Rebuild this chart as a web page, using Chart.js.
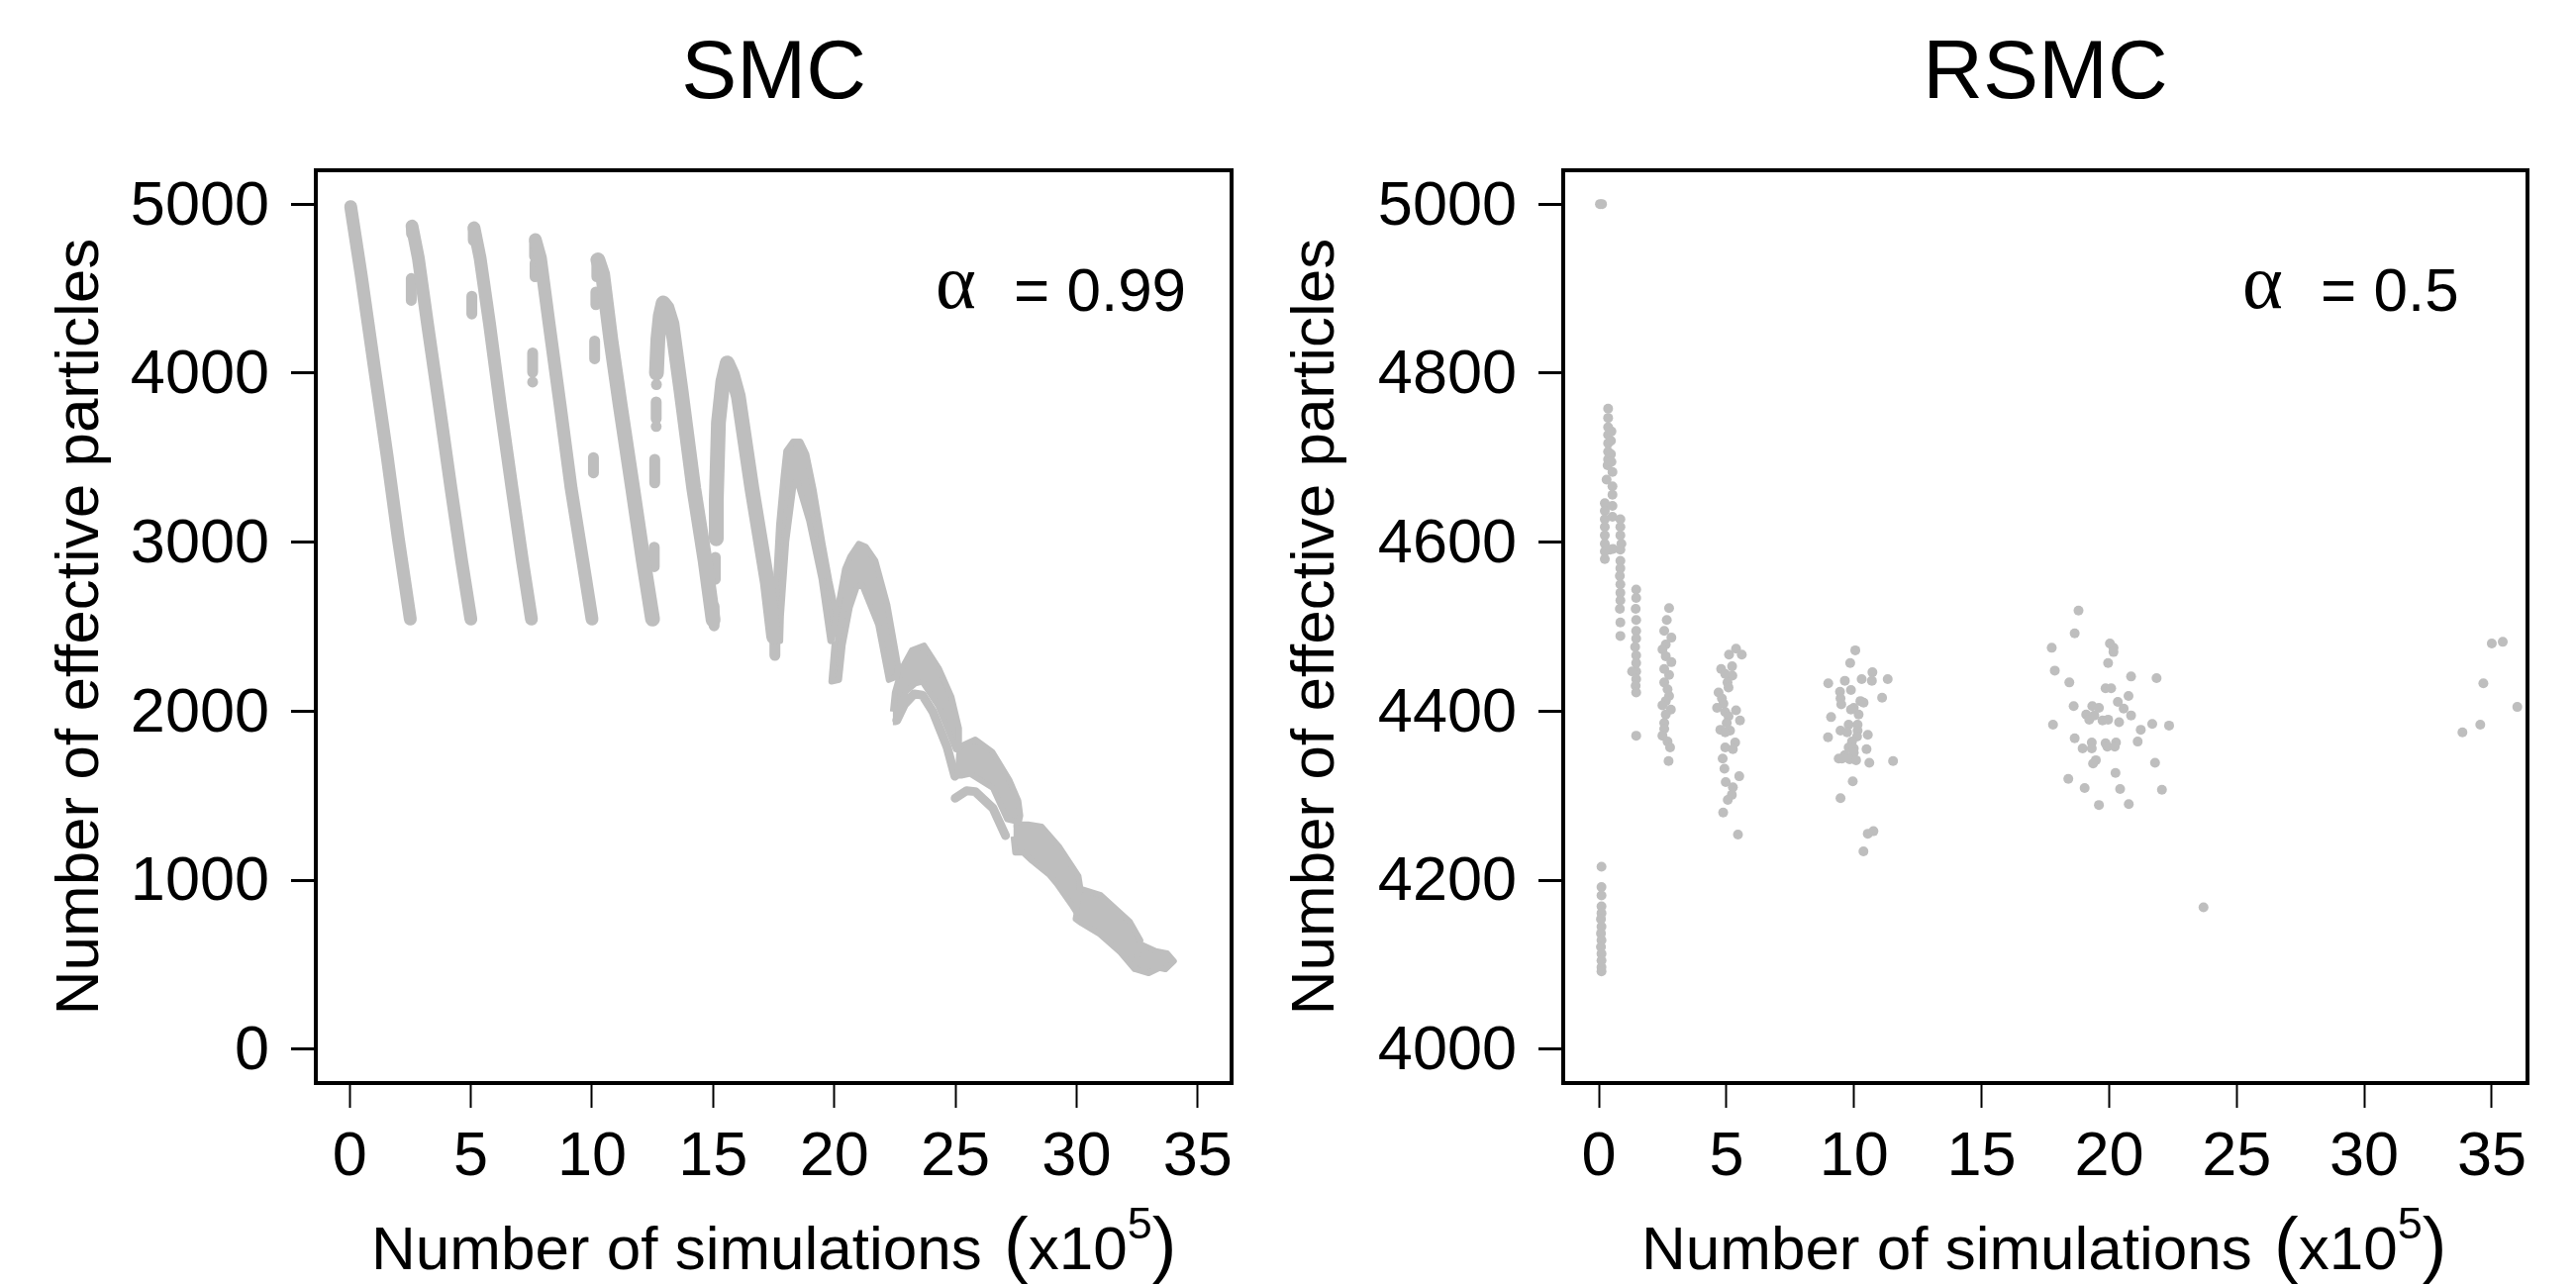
<!DOCTYPE html>
<html lang="en">
<head>
    <meta charset="UTF-8">
    <title>SMC vs RSMC</title>
    <script src="https://cdn.jsdelivr.net/npm/chart.js"></script>
    <style>
        html, body {
            margin: 0;
            padding: 0;
            background: #fff;
            width: 2602px;
            height: 1298px;
            overflow: hidden;
            font-family: "Liberation Sans", Arial, sans-serif;
            color: #000;
        }

        canvas {
            position: absolute;
            top: 0;
        }

        #smc { left: 0; }
        #rsmc { left: 1290px; }

        .xlab, .note {
            position: absolute;
            font-size: 62px;
            line-height: 70px;
            white-space: nowrap;
        }

        .xlab .paren { font-size: 74px; font-weight: 400; }
        .xlab .open { margin-left: 5px; }
        .xlab .close { margin-left: 0; }
        .xlab .sup { position: relative; top: -31px; font-size: 45px; }
        .note .alpha { font-family: "Liberation Serif", serif; font-size: 78px; position: absolute; top: -8px; }
    </style>
</head>
<body>
    <canvas id="smc" width="1284" height="1298"></canvas>
    <canvas id="rsmc" width="1312" height="1298"></canvas>

    <div class="xlab" style="left:375px; top:1222px">Number of simulations <span class="paren open">(</span>x10<span class="sup">5</span><span class="paren close">)</span></div>
    <div class="xlab" style="left:1658px; top:1222px">Number of simulations <span class="paren open">(</span>x10<span class="sup">5</span><span class="paren close">)</span></div>
    <div class="note" style="left:945px; top:258px; width:260px"><span class="alpha">α</span><span style="margin-left:79px">= 0.99</span></div>
    <div class="note" style="left:2265px; top:258px; width:240px"><span class="alpha">α</span><span style="margin-left:79px">= 0.5</span></div>

    <script>
        const xTicks = [0, 5, 10, 15, 20, 25, 30, 35];
        const smcYTicks = [0, 1000, 2000, 3000, 4000, 5000];
        const rsmcYTicks = [4000, 4200, 4400, 4600, 4800, 5000];

        // SMC: descending sweeps as [x (1e5 sims), effective particles]
        const smcSweep1 = [[0.04, 4985], [0.47, 4584], [1.05, 4000], [1.54, 3513], [2.0, 3026], [2.5, 2545]];
        const smcSweep2 = [[2.57, 4870], [2.83, 4682], [3.21, 4292], [3.7, 3805], [4.18, 3318], [4.62, 2889], [5.0, 2545]];
        const smcSweep3 = [[5.13, 4860], [5.38, 4682], [5.77, 4292], [6.22, 3805], [6.7, 3318], [7.13, 2889], [7.5, 2545]];
        const smcSweep4 = [[7.66, 4790], [7.87, 4682], [8.23, 4292], [8.69, 3805], [9.14, 3318], [9.62, 2889], [10.0, 2545]];
        const smcSweep5 = [[10.24, 4670], [10.44, 4584], [10.78, 4195], [11.17, 3805], [11.68, 3318], [12.12, 2889], [12.5, 2545]];
        const smcSweep6 = [[12.66, 4000], [12.72, 4200], [12.82, 4340], [12.94, 4415], [13.1, 4385], [13.3, 4292], [13.67, 3902], [14.2, 3318], [14.67, 2889], [15.0, 2540]];
        const smcSweep7 = [[15.13, 3020], [15.13, 3250], [15.22, 3708], [15.4, 3950], [15.58, 4060], [15.8, 3990], [16.04, 3863], [16.6, 3318], [17.24, 2759], [17.5, 2440]];

        // short detached runs
        const smcStubs = [
            [[2.55, 4865], [2.55, 4825]],
            [[2.54, 4560], [2.54, 4430]],
            [[5.1, 4855], [5.1, 4785]],
            [[5.04, 4455], [5.04, 4350]],
            [[7.63, 4780], [7.63, 4690]],
            [[7.65, 4650], [7.65, 4570]],
            [[7.55, 4120], [7.55, 4005]],
            [[7.55, 3947], [7.55, 3947]],
            [[10.2, 4665], [10.2, 4570]],
            [[10.16, 4480], [10.16, 4405]],
            [[10.11, 4190], [10.11, 4085]],
            [[10.06, 3500], [10.06, 3410]],
            [[12.66, 3932], [12.66, 3932]],
            [[12.65, 3830], [12.65, 3730]],
            [[12.65, 3684], [12.65, 3684]],
            [[12.59, 3490], [12.59, 3350]],
            [[12.57, 2970], [12.57, 2855]],
            [[15.09, 2910], [15.09, 2780]],
            [[15.04, 2620], [15.04, 2505]],
            [[17.55, 2440], [17.55, 2330]]
        ];

        // later sweeps are wide bands, traced as outlines
        const smcBand8 = [[17.5, 2415], [17.6, 2780], [17.72, 3100], [17.9, 3380], [18.02, 3540], [18.3, 3595], [18.6, 3595], [18.85, 3520], [19.15, 3310], [19.52, 2990], [19.8, 2770], [20.08, 2580], [19.91, 2427], [19.84, 2415], [19.47, 2784], [18.96, 3128], [18.45, 3374], [18.31, 3325], [18.02, 3005], [17.8, 2562], [17.77, 2415]];
        const smcBand9 = [[20.12, 2587], [20.44, 2840], [20.66, 2915], [21.01, 2990], [21.3, 2973], [21.7, 2890], [22.2, 2625], [22.64, 2267], [22.58, 2205], [22.25, 2185], [21.81, 2513], [21.15, 2747], [20.93, 2735], [20.64, 2612], [20.35, 2390], [20.2, 2185], [19.88, 2175], [20.02, 2415]];
        const smcBand10 = [[22.42, 1997], [22.5, 2110], [22.78, 2250], [23.2, 2360], [23.71, 2388], [24.33, 2250], [24.84, 2085], [25.15, 1898], [25.15, 1790], [25.02, 1775], [24.29, 2033], [23.64, 2174], [23.34, 2164], [22.98, 2120], [22.76, 2058], [22.54, 1935], [22.42, 1935]];
        const smcStrand10 = [[22.58, 1947], [22.9, 2041], [23.3, 2102], [23.64, 2095], [24.07, 1997], [24.66, 1787], [24.98, 1615]];
        const smcBand11 = [[25.04, 1765], [25.24, 1795], [25.82, 1832], [26.52, 1760], [27.24, 1590], [27.6, 1470], [27.68, 1382], [27.62, 1345], [27.14, 1360], [26.55, 1545], [25.6, 1630], [25.24, 1618], [24.98, 1618]];
        const smcStrand11 = [[24.99, 1485], [25.46, 1529], [25.82, 1524], [26.55, 1426], [27.07, 1264]];
        const smcBand12 = [[27.4, 1330], [28.0, 1330], [28.56, 1317], [29.3, 1195], [30.08, 1025], [30.15, 963], [29.99, 810], [29.84, 845], [29.18, 980], [28.89, 1030], [28.16, 1115], [27.8, 1163], [27.47, 1163], [27.4, 1259]];
        const smcBand13 = [[30.15, 950], [31.0, 912], [32.2, 755], [32.64, 644], [32.39, 475], [31.81, 573], [30.93, 684], [30.2, 746], [29.96, 770], [30.02, 816]];
        const smcBand14 = [[32.69, 618], [33.27, 580], [33.74, 568], [34.02, 521], [33.67, 473], [33.42, 481], [32.98, 450], [32.44, 473], [32.37, 521]];

        // RSMC: every dot
        const rsmcStart = [[0.04, 5000], [0.12, 5000]];
        const rsmcLow = [[0.1, 4216], [0.1, 4192], [0.1, 4182], [0.1, 4169], [0.1, 4161], [0.08, 4154], [0.1, 4145], [0.08, 4137], [0.1, 4129], [0.08, 4121], [0.1, 4113], [0.1, 4105], [0.1, 4097], [0.1, 4092]];
        const rsmcEarlyA = [[0.23, 4646], [0.23, 4637], [0.23, 4627], [0.23, 4618], [0.23, 4608], [0.23, 4598], [0.23, 4589], [0.23, 4580]];
        const rsmcEarlyB = [[0.36, 4758], [0.36, 4747], [0.36, 4736], [0.36, 4727], [0.36, 4717], [0.36, 4707], [0.36, 4698], [0.34, 4691]];
        const rsmcEarlyC = [[0.49, 4731], [0.47, 4720], [0.47, 4704], [0.49, 4695], [0.53, 4683], [0.3, 4674], [0.53, 4666], [0.53, 4656], [0.53, 4643], [0.53, 4630], [0.43, 4591], [0.55, 4592]];
        const rsmcEarlyD = [[0.84, 4627], [0.84, 4618], [0.84, 4608], [0.88, 4598], [0.84, 4591], [0.84, 4578], [0.84, 4569], [0.82, 4560], [0.84, 4550], [0.84, 4540], [0.84, 4531], [0.82, 4521], [0.84, 4505], [0.84, 4489]];
        const rsmcAt15 = [[1.46, 4544], [1.46, 4534], [1.44, 4521], [1.46, 4508], [1.46, 4495], [1.46, 4486], [1.42, 4476], [1.46, 4466], [1.46, 4457], [1.46, 4447], [1.3, 4447], [1.46, 4438], [1.44, 4430], [1.46, 4422], [1.46, 4371]];
        const rsmcAt25 = [[2.75, 4522], [2.66, 4508], [2.56, 4495], [2.84, 4487], [2.62, 4479], [2.49, 4473], [2.62, 4465], [2.84, 4458], [2.56, 4450], [2.75, 4443], [2.56, 4434], [2.69, 4426], [2.75, 4418], [2.62, 4412], [2.49, 4407], [2.82, 4402], [2.62, 4396], [2.56, 4386], [2.56, 4379], [2.49, 4371], [2.69, 4364], [2.79, 4357], [2.73, 4341]];
        const rsmcAt5 = [[5.375, 4474], [5.6, 4467], [5.1, 4467], [5.22, 4453], [4.79, 4450], [4.95, 4444], [5.23, 4442], [5.04, 4434], [5.08, 4428], [4.69, 4422], [4.82, 4415], [4.88, 4409], [4.63, 4404], [5.375, 4401], [4.95, 4399], [5.08, 4394], [5.53, 4389], [5.01, 4386], [4.76, 4378], [5.14, 4377], [4.95, 4375], [5.34, 4363], [4.95, 4357], [5.25, 4355], [4.85, 4344], [4.92, 4332], [5.5, 4323], [4.97, 4316], [5.25, 4310], [5.21, 4301], [5.05, 4295], [4.87, 4280], [5.45, 4254]];
        const rsmcAt10 = [[10.05, 4472], [9.85, 4457], [10.72, 4446], [9.64, 4436], [10.3, 4438], [10.7, 4436], [11.32, 4438], [8.99, 4433], [9.45, 4423], [9.88, 4425], [9.47, 4415], [9.5, 4408], [11.1, 4416], [10.25, 4412], [10.375, 4410], [9.99, 4404], [9.88, 4402], [10.18, 4396], [9.1, 4393], [9.79, 4384], [10.14, 4384], [9.47, 4377], [9.73, 4375], [10.14, 4377], [10.12, 4370], [10.54, 4372], [8.98, 4369], [9.92, 4364], [9.79, 4357], [9.99, 4356], [10.49, 4355], [9.99, 4351], [9.64, 4348], [9.4, 4344], [9.53, 4344], [9.83, 4343], [10.08, 4342], [10.6, 4339], [11.53, 4341], [9.95, 4317], [9.47, 4297], [10.76, 4258], [10.54, 4255], [10.37, 4234]];
        const rsmcAt20 = [[18.8, 4519], [18.65, 4492], [17.75, 4475], [20.03, 4480], [20.17, 4475], [20.17, 4470], [19.96, 4457], [17.87, 4448], [18.44, 4434], [20.86, 4441], [21.86, 4439], [19.86, 4427], [20.08, 4427], [20.76, 4418], [20.34, 4411], [18.61, 4406], [19.34, 4406], [19.6, 4404], [20.57, 4403], [19.1, 4396], [19.42, 4395], [20.86, 4395], [19.22, 4390], [19.74, 4389], [19.96, 4390], [20.39, 4387], [17.8, 4384], [21.69, 4385], [22.35, 4383], [21.24, 4378], [18.65, 4368], [19.32, 4363], [19.86, 4362], [20.27, 4363], [21.12, 4364], [18.96, 4356], [19.32, 4356], [19.93, 4358], [20.22, 4358], [19.48, 4342], [19.37, 4338], [21.8, 4339], [20.25, 4327], [18.4, 4320], [19.04, 4309], [20.43, 4308], [22.07, 4307], [19.6, 4289], [20.77, 4290]];
        const rsmcLate = [[23.7, 4168], [35.0, 4480], [35.43, 4482], [34.67, 4433], [36.0, 4405], [34.55, 4384], [33.85, 4375]];

        const GRAY = '#bebebe';
        const FONT = '"Liberation Sans", Arial, sans-serif';

        function lineSet(data, width) {
            return {
                data, showLine: true, pointRadius: 0, borderColor: GRAY, borderWidth: width,
                borderCapStyle: 'round', borderJoinStyle: 'round', tension: 0, fill: false
            };
        }

        function bandSet(data) {
            return {
                data, showLine: true, pointRadius: 0, borderColor: GRAY, backgroundColor: GRAY,
                borderWidth: 6, borderJoinStyle: 'round', tension: 0, fill: 'shape'
            };
        }

        // box round the plot area, and y labels nudged down onto their ticks
        const plotBox = {
            id: 'plotBox',
            beforeDraw(chart) {
                chart.scales.y.getLabelItems(chart.chartArea).forEach(item => { item.options.translation[1] += 3; });
            },
            afterDraw(chart) {
                const { ctx, chartArea: a } = chart;
                ctx.save();
                ctx.strokeStyle = '#000';
                ctx.lineWidth = 4;
                ctx.strokeRect(a.left, a.top, a.right - a.left, a.bottom - a.top);
                ctx.restore();
            }
        };

        function makeChart(id, titleText, datasets, yMin, yMax, yTicks, axisWidth, rightPad, titlePad) {
            return new Chart(document.getElementById(id), {
                type: 'scatter',
                data: { datasets },
                plugins: [plotBox],
                options: {
                    animation: false,
                    responsive: false,
                    devicePixelRatio: 1,
                    layout: { padding: { right: rightPad } },
                    plugins: {
                        legend: { display: false },
                        tooltip: { enabled: false },
                        title: {
                            display: true,
                            text: titleText,
                            color: '#000',
                            fullSize: false,
                            font: { family: FONT, size: 84, weight: 'normal', lineHeight: 1.2 },
                            padding: { top: 25, bottom: 46.2 }
                        }
                    },
                    scales: {
                        x: {
                            min: -1.4,
                            max: 36.4,
                            afterFit(scale) { scale.height = 204; },
                            afterBuildTicks(scale) { scale.ticks = xTicks.map(value => ({ value })); },
                            grid: { drawOnChartArea: false, tickLength: 25, tickColor: '#000', tickWidth: 2 },
                            border: { display: false },
                            ticks: { maxRotation: 0, autoSkip: false, color: '#000', padding: 13, font: { family: FONT, size: 63 }, callback: v => String(v) }
                        },
                        y: {
                            min: yMin,
                            max: yMax,
                            afterFit(scale) { scale.width = axisWidth; },
                            afterBuildTicks(scale) { scale.ticks = yTicks.map(value => ({ value })); },
                            grid: { drawOnChartArea: false, tickLength: 25, tickColor: '#000', tickWidth: 3 },
                            border: { display: false },
                            ticks: { autoSkip: false, color: '#000', padding: 22, font: { family: FONT, size: 63 }, callback: v => String(v) },
                            title: {
                                display: true,
                                text: 'Number of effective particles',
                                color: '#000',
                                padding: { top: titlePad, bottom: 0 },
                                font: { family: FONT, size: 62, lineHeight: 1.2 }
                            }
                        }
                    }
                }
            });
        }

        const smcLines = [smcSweep1, smcSweep2, smcSweep3, smcSweep4].map(d => lineSet(d, 13));
        const smcThick = [smcSweep5, smcSweep6, smcSweep7].map(d => lineSet(d, 15));
        const smcStubLines = smcStubs.map(d => lineSet(d, 11));
        const smcBands = [smcBand8, smcBand9, smcBand10, smcBand11, smcBand12, smcBand13, smcBand14].map(bandSet);
        const smcStrands = [smcStrand10, smcStrand11].map(d => lineSet(d, 9));

        makeChart('smc', 'SMC',
            [...smcLines, ...smcThick, ...smcStubLines, ...smcBands, ...smcStrands],
            -200, 5200, smcYTicks, 319, 40, 45);

        const rsmcDots = [].concat(rsmcStart, rsmcLow, rsmcEarlyA, rsmcEarlyB, rsmcEarlyC, rsmcEarlyD,
            rsmcAt15, rsmcAt25, rsmcAt5, rsmcAt10, rsmcAt20, rsmcLate);

        makeChart('rsmc', 'RSMC',
            [{ data: rsmcDots, showLine: false, pointRadius: 5, pointBackgroundColor: GRAY, pointBorderWidth: 0 }],
            3960, 5040, rsmcYTicks, 289, 49, 3);
    </script>
</body>
</html>
